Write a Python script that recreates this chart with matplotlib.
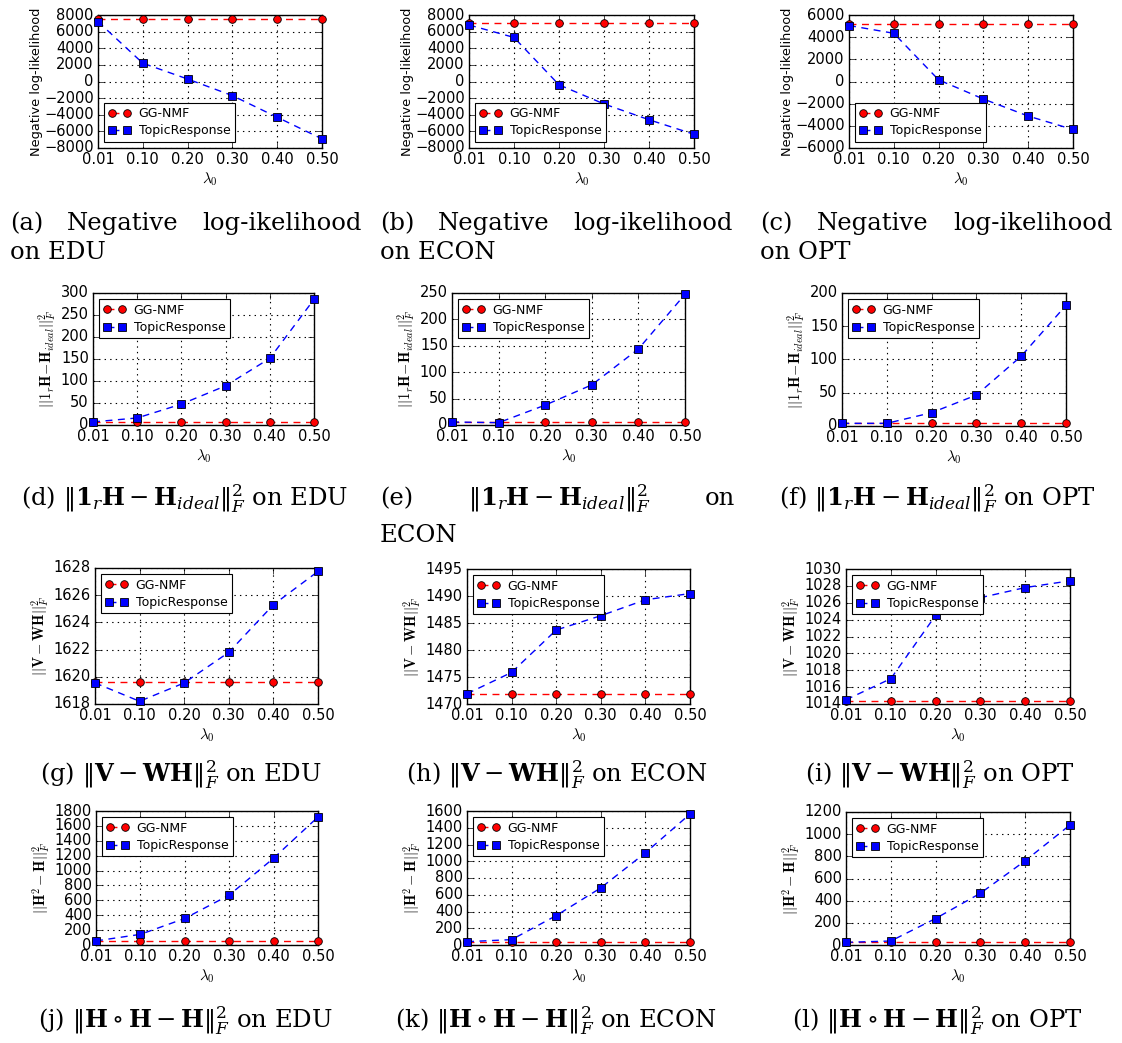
import numpy as np
import matplotlib
matplotlib.use("Agg")
import matplotlib.pyplot as plt

plt.style.use("classic")
plt.rcParams.update({
    "figure.facecolor": "white",
    "savefig.facecolor": "white",
    "axes.formatter.useoffset": False,
    "xtick.labelsize": 10.5,
    "ytick.labelsize": 10.5,
    "lines.linewidth": 1.0,
    "lines.dashed_pattern": [5, 4],
    "grid.linestyle": ":",
    "grid.color": "black",
    "grid.linewidth": 0.8,
})

lambdas = ["0.01", "0.10", "0.20", "0.30", "0.40", "0.50"]

# negative log-likelihood
nll_edu_gg = [7500, 7500, 7500, 7500, 7500, 7500]
nll_edu_tr = [7200, 2200, 300, -1700, -4300, -6900]
nll_econ_gg = [7000, 7000, 7000, 7000, 7000, 7000]
nll_econ_tr = [6800, 5300, -400, -2700, -4600, -6350]
nll_opt_gg = [5150, 5150, 5150, 5150, 5150, 5150]
nll_opt_tr = [5050, 4350, 150, -1580, -3120, -4330]

# ||1_r H - H_ideal||_F^2
ideal_edu_gg = [7, 7, 7, 7, 7, 7]
ideal_edu_tr = [7, 16, 47.5, 89, 151.5, 285.5]
ideal_econ_gg = [5.7, 5.7, 5.7, 5.7, 5.7, 5.7]
ideal_econ_tr = [5.7, 4.4, 37.7, 76, 144, 247.5]
ideal_opt_gg = [4, 4, 4, 4, 4, 4]
ideal_opt_tr = [4, 4, 20, 46.5, 105, 181.5]

# ||V - WH||_F^2
rec_edu_gg = [1619.6, 1619.6, 1619.6, 1619.6, 1619.6, 1619.6]
rec_edu_tr = [1619.55, 1618.2, 1619.55, 1621.8, 1625.3, 1627.75]
rec_econ_gg = [1471.8, 1471.8, 1471.8, 1471.8, 1471.8, 1471.8]
rec_econ_tr = [1471.9, 1475.85, 1483.7, 1486.35, 1489.3, 1490.45]
rec_opt_gg = [1014.3, 1014.3, 1014.3, 1014.3, 1014.3, 1014.3]
rec_opt_tr = [1014.5, 1017.0, 1024.5, 1026.6, 1027.8, 1028.6]

# ||H o H - H||_F^2
bin_edu_gg = [55, 55, 55, 55, 55, 55]
bin_edu_tr = [55, 143, 357, 670, 1166, 1720]
bin_econ_gg = [40, 40, 40, 40, 40, 40]
bin_econ_tr = [40, 64, 351, 682, 1101, 1564]
bin_opt_gg = [24, 24, 24, 24, 24, 24]
bin_opt_tr = [24, 36, 239, 467, 760, 1083]

lab_nll = "Negative log-likelihood"
lab_ideal = r"$||\mathbf{1}_r\mathbf{H}\!-\!\mathbf{H}_{ideal}||_F^2$"
lab_rec = r"$||\mathbf{V}-\mathbf{WH}||_F^2$"
lab_bin = r"$||\mathbf{H}^2-\mathbf{H}||_F^2$"

panels = [
    (nll_edu_gg, nll_edu_tr, np.arange(-8000, 8001, 2000), lab_nll, "lower left"),
    (nll_econ_gg, nll_econ_tr, np.arange(-8000, 8001, 2000), lab_nll, "lower left"),
    (nll_opt_gg, nll_opt_tr, np.arange(-6000, 6001, 2000), lab_nll, "lower left"),
    (ideal_edu_gg, ideal_edu_tr, np.arange(0, 301, 50), lab_ideal, "upper left"),
    (ideal_econ_gg, ideal_econ_tr, np.arange(0, 251, 50), lab_ideal, "upper left"),
    (ideal_opt_gg, ideal_opt_tr, np.arange(0, 201, 50), lab_ideal, "upper left"),
    (rec_edu_gg, rec_edu_tr, np.arange(1618, 1629, 2), lab_rec, "upper left"),
    (rec_econ_gg, rec_econ_tr, np.arange(1470, 1496, 5), lab_rec, "upper left"),
    (rec_opt_gg, rec_opt_tr, np.arange(1014, 1031, 2), lab_rec, "upper left"),
    (bin_edu_gg, bin_edu_tr, np.arange(0, 1801, 200), lab_bin, "upper left"),
    (bin_econ_gg, bin_econ_tr, np.arange(0, 1601, 200), lab_bin, "upper left"),
    (bin_opt_gg, bin_opt_tr, np.arange(0, 1201, 200), lab_bin, "upper left"),
]

# axes boxes in pixels: left, top, right, bottom
boxes = [
    (98, 15, 322, 148), (469, 15, 694, 148), (849, 15, 1073, 148),
    (93, 293, 314, 425), (452, 293, 685, 425), (842, 293, 1066, 426),
    (95, 568, 318, 704), (467, 569, 690, 704), (846, 569, 1070, 704),
    (96, 811, 318, 945), (467, 811, 690, 945), (846, 812, 1070, 945),
]

W, H = 1122, 1043
fig = plt.figure(figsize=(W / 100, H / 100), dpi=100)
x = np.arange(len(lambdas))

for (gg, tr, yt, ylab, loc), (l, t, r, b) in zip(panels, boxes):
    ax = fig.add_axes([l / W, 1 - b / H, (r - l) / W, (b - t) / H])
    ax.plot(x, gg, "o--", color="red", markersize=5.5, markeredgecolor="black",
            markeredgewidth=0.6, label="GG-NMF", clip_on=False, zorder=3)
    ax.plot(x, tr, "s--", color="blue", markersize=5.5, markeredgecolor="black",
            markeredgewidth=0.6, label="TopicResponse", clip_on=False, zorder=3)
    ax.set_xlim(0, len(lambdas) - 1)
    ax.set_xticks(x)
    ax.set_xticklabels(lambdas)
    ax.set_yticks(yt)
    ax.set_ylim(yt[0], yt[-1])
    ax.tick_params(pad=3)
    ax.grid(True)
    ax.set_xlabel(r"$\lambda_0$", fontsize=11, labelpad=2)
    if ylab == lab_nll:
        ax.set_ylabel(ylab, fontsize=9.3, labelpad=1)
    else:
        ax.set_ylabel(ylab, fontsize=10.5, labelpad=2)
    leg = ax.legend(loc=loc, fontsize=9, numpoints=2, handlelength=1.8,
                    handletextpad=0.6, borderpad=0.35, labelspacing=0.35,
                    fancybox=False)
    leg.get_frame().set_linewidth(0.8)
    leg.set_zorder(5)

cap = dict(family="DejaVu Serif", fontsize=17.5, math_fontfamily="dejavuserif")
renderer = fig.canvas.get_renderer()


def justify(words, x0, x1, yb):
    texts = [fig.text(0, 0, w, ha="left", va="baseline", **cap) for w in words]
    widths = [tx.get_window_extent(renderer).width for tx in texts]
    gap = (x1 - x0 - sum(widths)) / (len(words) - 1)
    pos = x0
    for tx, w in zip(texts, widths):
        tx.set_position((pos / W, 1 - yb / H))
        pos += w + gap


def caption(s, cx, yb):
    fig.text(cx / W, 1 - yb / H, s, ha="center", va="baseline", **cap)


def line2(s, x0, yb):
    fig.text(x0 / W, 1 - yb / H, s, ha="left", va="baseline", **cap)


f_ideal = r"$\Vert\mathbf{1}_r\mathbf{H} - \mathbf{H}_{ideal}\Vert_F^2$"
f_rec = r"$\Vert\mathbf{V} - \mathbf{WH}\Vert_F^2$"
f_bin = r"$\Vert\mathbf{H}\circ\mathbf{H} - \mathbf{H}\Vert_F^2$"

justify(["(a)", "Negative", "log-ikelihood"], 10, 362, 230)
line2("on EDU", 10, 259)
justify(["(b)", "Negative", "log-ikelihood"], 380, 733, 230)
line2("on ECON", 380, 259)
justify(["(c)", "Negative", "log-ikelihood"], 760, 1113, 230)
line2("on OPT", 760, 259)

caption("(d) " + f_ideal + " on EDU", 185, 505)
justify(["(e)", f_ideal, "on"], 380, 735, 505)
line2("ECON", 380, 542)
caption("(f) " + f_ideal + " on OPT", 937, 505)

caption("(g) " + f_rec + " on EDU", 181, 782)
caption("(h) " + f_rec + " on ECON", 557, 782)
caption("(i) " + f_rec + " on OPT", 940, 782)

caption("(j) " + f_bin + " on EDU", 185, 1028)
caption("(k) " + f_bin + " on ECON", 556, 1028)
caption("(l) " + f_bin + " on OPT", 937, 1028)

fig.savefig("out.png", dpi=100)
